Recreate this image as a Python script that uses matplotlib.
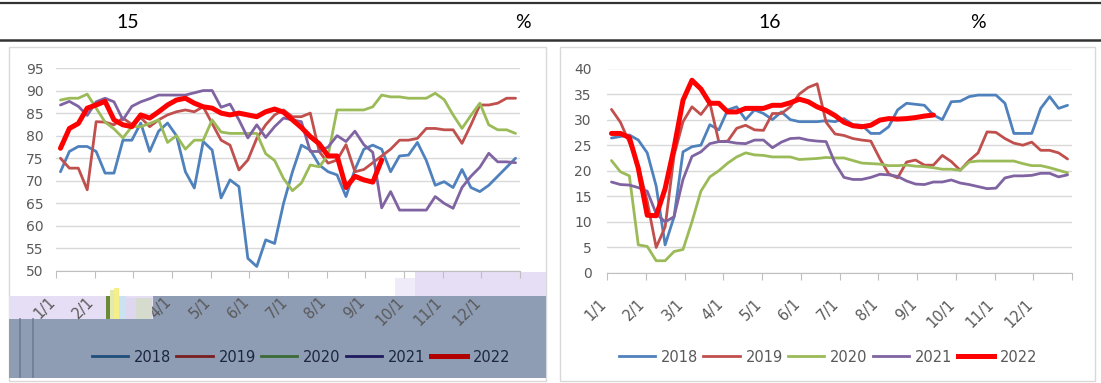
"""Weekly rate curves by year, two panels with a month axis."""

import matplotlib

matplotlib.use("Agg")
import matplotlib.pyplot as plt
from matplotlib.lines import Line2D
from matplotlib.patches import Rectangle
from matplotlib.transforms import ScaledTranslation

FIG_W, FIG_H = 1101, 383

MONTH_LABELS = ["1/1", "2/1", "3/1", "4/1", "5/1", "6/1",
                "7/1", "8/1", "9/1", "10/1", "11/1", "12/1"]
YEARS = ["2018", "2019", "2020", "2021", "2022"]

# panel 15 (weekly, %)
LEFT_2018 = [72, 76.5, 77.6, 77.6, 76.5, 71.7, 71.7, 79, 79, 82.8, 76.5, 81, 82.8,
             80, 72, 68.4, 78.7, 76.8, 66.2, 70.2, 68.7, 52.8, 51, 56.9, 56.1, 65,
             72, 77.9, 76.8, 73.5, 72, 71.3, 66.5, 72.5, 77, 77.9, 77, 72, 75.5,
             75.7, 78.5, 74.5, 69, 69.8, 68.5, 72.5, 68.5, 67.6, 69, 71, 73, 75]
LEFT_2019 = [75, 72.8, 72.8, 68, 83.1, 83, 82.4, 83.9, 82.5, 84, 82, 83.5, 84.6,
             85.3, 85.7, 85.3, 86.4, 82.7, 79, 77.9, 72.4, 74.6, 79.4, 82.4, 84.6,
             85.7, 84.2, 84.2, 85, 76.5, 73.9, 74.6, 78, 72, 72.5, 74, 75.5, 77,
             79, 79, 79.4, 81.6, 81.6, 81.3, 81.3, 78.3, 82.4, 86.8, 86.8, 87.2,
             88.3, 88.3]
LEFT_2020 = [87.9, 88.3, 88.3, 89.2, 86.1, 83, 81.5, 79.5, 82, 82, 82.7, 83.5, 78.5,
             80, 77, 79, 79, 83.5, 80.8, 80.5, 80.5, 80.5, 80.5, 76, 74.5, 70.5,
             67.8, 69.5, 73.5, 73.1, 75.7, 85.7, 85.7, 85.7, 85.7, 86.4, 89, 88.6,
             88.6, 88.3, 88.3, 88.3, 89.4, 88, 84.6, 81.6, 84.5, 87.2, 82.4, 81.3,
             81.3, 80.5]
LEFT_2021 = [86.8, 87.6, 86.5, 84.5, 87.5, 88.3, 87.5, 83.5, 86.5, 87.5, 88.2, 89,
             89, 89, 89, 89.5, 90, 90, 86.3, 87, 83.5, 79.5, 82.4, 79.6, 82, 83.9,
             83.5, 83.1, 76.5, 76.5, 77.5, 80, 78.7, 81, 78, 76.3, 64, 67.6, 63.5,
             63.5, 63.5, 63.5, 66.5, 65, 63.9, 68.5, 71, 73, 76.1, 74.2, 74.2, 74]
LEFT_2022 = [77.2, 81.6, 82.7, 86.1, 86.8, 87.6, 83.5, 82.4, 82, 84.6, 83.9, 85.3,
             86.8, 87.9, 88.3, 87.2, 86.4, 86.1, 85, 84.6, 85, 84.6, 84.2, 85.3,
             85.9, 85.2, 83.5, 81.8, 79.8, 78.2, 75.5, 75.5, 68.5, 71, 70.2, 69.7,
             74.6]

# panel 16 (weekly, %)
RIGHT_2018 = [26.4, 26.7, 27, 26, 23.5, 17, 5.5, 11, 23.7, 24.7, 25, 29, 28, 31.9,
              32.5, 30, 31.9, 31.2, 30, 31.5, 30, 29.6, 29.6, 29.6, 29.8, 29.6,
              30.2, 29, 28.9, 27.3, 27.3, 28.6, 31.9, 33.2, 33, 32.8, 30.9, 30,
              33.5, 33.6, 34.5, 34.8, 34.8, 34.8, 33.2, 27.3, 27.3, 27.3, 32.2,
              34.5, 32.2, 32.8]
RIGHT_2019 = [32, 29.5, 25.5, 21, 14, 5, 9, 23, 29.6, 32.5, 31, 33.3, 25.7, 25.8,
              28.3, 28.9, 28, 27.9, 31.2, 31.2, 32.5, 35, 36.3, 37, 29.5, 27.2,
              26.9, 26.3, 26, 25.8, 22.4, 19.4, 18.6, 21.7, 22.1, 21.1, 21.1, 23,
              21.8, 20.1, 22, 23.5, 27.6, 27.5, 26.3, 25.4, 25, 25.6, 24, 24, 23.5,
              22.3]
RIGHT_2020 = [22, 19.8, 19, 5.5, 5.2, 2.4, 2.4, 4.2, 4.6, 10, 16, 18.8, 20, 21.5,
              22.7, 23.5, 23.1, 23, 22.7, 22.7, 22.7, 22.2, 22.3, 22.4, 22.6, 22.5,
              22.5, 22, 21.5, 21.4, 21.3, 21, 21, 21.1, 20.9, 20.8, 20.6, 20.3,
              20.3, 20.1, 21.7, 21.9, 21.9, 21.9, 21.9, 21.9, 21.4, 21, 21, 20.6,
              20.1, 19.6]
RIGHT_2021 = [17.8, 17.3, 17.2, 16.7, 16, 11.6, 10, 11, 18.3, 22.8, 23.7, 25.3,
              25.7, 25.7, 25.4, 25.3, 26, 26, 24.5, 25.6, 26.3, 26.4, 26, 25.8,
              25.7, 21.5, 18.7, 18.3, 18.3, 18.7, 19.3, 19.2, 18.9, 18, 17.4, 17.3,
              17.8, 17.8, 18.2, 17.6, 17.3, 16.9, 16.5, 16.6, 18.6, 19, 19, 19.1,
              19.5, 19.5, 18.8, 19.2]
RIGHT_2022 = [27.3, 27.3, 26.5, 20.5, 11.3, 11.2, 16.5, 24.5, 33.8, 37.7, 36, 33.2,
              33.2, 31.5, 31.5, 32.2, 32.2, 32.2, 32.8, 32.8, 33.3, 34, 33.5, 32.5,
              31.8, 30.8, 29.5, 28.8, 28.6, 28.9, 29.9, 30.2, 30.1, 30.2, 30.4,
              30.7, 30.9]

LINE_COLORS = ["#4f81bd", "#c0504d", "#9bbb59", "#8064a2", "#ff0000"]
LINE_WIDTHS = [2.0, 2.0, 2.0, 2.0, 3.6]
# legend swatches of the left panel sit on a dark band, so they are darker
DARK_COLORS = ["#1f4e79", "#7a1f1f", "#3a6b35", "#1f1a5e", "#b00000"]

GRID = "#d9d9d9"
AXIS = "#bfbfbf"
TEXT = "#595959"


def fx(px):
    return px / FIG_W


def fy(py):
    return 1 - py / FIG_H


def week_positions(n):
    return [(i + 0.5) * 12 / 52 for i in range(n)]


def style_axis(fig, ax, ylim, step, ypad):
    ax.set_xlim(0, 12)
    ax.set_ylim(*ylim)
    ax.set_yticks(range(ylim[0], ylim[1] + 1, step))
    ax.set_xticks(range(13))
    ax.set_xticklabels(MONTH_LABELS + [""], rotation=45, ha="right",
                       rotation_mode="anchor")
    ax.tick_params(axis="x", length=5, color=AXIS, pad=6, labelsize=10.5,
                   labelcolor=TEXT)
    ax.tick_params(axis="y", length=0, pad=ypad, labelsize=10, labelcolor=TEXT)
    # nudge the slanted month labels down and to the left of their ticks
    shift = ScaledTranslation(-8 / 100, -8 / 100, fig.dpi_scale_trans)
    for label in ax.get_xticklabels():
        label.set_transform(label.get_transform() + shift)
    ax.grid(axis="y", color=GRID, linewidth=1.0)
    ax.set_axisbelow(True)
    for side in ("top", "right", "left"):
        ax.spines[side].set_visible(False)
    ax.spines["bottom"].set_color(AXIS)
    ax.patch.set_alpha(0)


def draw_panel(ax, series):
    for values, color, width in zip(series, LINE_COLORS, LINE_WIDTHS):
        ax.plot(week_positions(len(values)), values, color=color, linewidth=width,
                solid_joinstyle="round", solid_capstyle="round")


def add_rect(fig, x0, y0, x1, y1, color, z=-1, **kw):
    fig.patches.append(Rectangle((fx(x0), fy(y1)), fx(x1) - fx(x0), fy(y0) - fy(y1),
                                 transform=fig.transFigure, facecolor=color,
                                 edgecolor="none", zorder=z, **kw))


def main():
    fig = plt.figure(figsize=(FIG_W / 100, FIG_H / 100), dpi=100)

    # header rules and captions
    for y, lw in ((2.5, 1.6), (40, 1.8)):
        fig.add_artist(Line2D([0, 1], [fy(y), fy(y)], color="#333333",
                              linewidth=lw, transform=fig.transFigure))
    for x, label in ((128, "15"), (523, "%"), (770, "16"), (978, "%")):
        fig.text(fx(x), fy(22), label, ha="center", va="center", fontsize=14,
                 color="black", family=["Lato", "DejaVu Sans"])

    # panel frames
    for x0, x1 in ((9, 546), (560, 1095)):
        fig.patches.append(Rectangle((fx(x0), fy(381)), fx(x1) - fx(x0),
                                     fy(47) - fy(381), transform=fig.transFigure,
                                     facecolor="none", edgecolor="#d9d9d9",
                                     linewidth=1, zorder=-2))

    # damaged band across the lower part of the left panel
    band = "#8e9cb4"
    lilac = "#e6def4"
    add_rect(fig, 153, 296, 546, 378, band)
    add_rect(fig, 9, 319, 153, 378, band)
    add_rect(fig, 9, 296, 153, 319, lilac)
    add_rect(fig, 415, 272, 546, 296, lilac)
    add_rect(fig, 395, 278, 415, 296, lilac, alpha=0.6)
    for x in (20, 33):
        fig.add_artist(Line2D([fx(x), fx(x)], [fy(319), fy(377)], color="#6e7c94",
                              linewidth=1.2, transform=fig.transFigure, zorder=0))
    for x0, x1, y0, c in ((106, 110, 296, "#6a8a3a"), (110, 114, 290, "#e3eab0"),
                          (114, 119, 288, "#f4ef8a"), (119, 126, 296, "#c9e3f3"),
                          (126, 136, 298, "#dfd6f0"), (136, 152, 298, "#d5dccd")):
        add_rect(fig, x0, y0, x1, 319, c, z=3)

    left_ax = fig.add_axes([fx(56), fy(271), fx(520) - fx(56), fy(68) - fy(271)])
    style_axis(fig, left_ax, (50, 95), 5, 9)
    draw_panel(left_ax, [LEFT_2018, LEFT_2019, LEFT_2020, LEFT_2021, LEFT_2022])

    right_ax = fig.add_axes([fx(607), fy(273), fx(1072) - fx(607), fy(68.5) - fy(273)])
    style_axis(fig, right_ax, (0, 40), 5, 11)
    draw_panel(right_ax, [RIGHT_2018, RIGHT_2019, RIGHT_2020, RIGHT_2021, RIGHT_2022])

    left_handles = [Line2D([], [], color=c, linewidth=w)
                    for c, w in zip(DARK_COLORS, LINE_WIDTHS)]
    right_handles = [Line2D([], [], color=c, linewidth=w)
                     for c, w in zip(LINE_COLORS, LINE_WIDTHS)]
    for handles, cx, color in ((left_handles, 301, "#1c2540"),
                               (right_handles, 828, TEXT)):
        fig.legend(handles, YEARS, loc="center", bbox_to_anchor=(fx(cx), fy(357)),
                   ncol=5, frameon=False, fontsize=10.5, labelcolor=color,
                   handlelength=2.5, handletextpad=0.4, columnspacing=0.35)

    fig.savefig("out.png", dpi=100, facecolor="white")
    plt.close(fig)


if __name__ == "__main__":
    main()
